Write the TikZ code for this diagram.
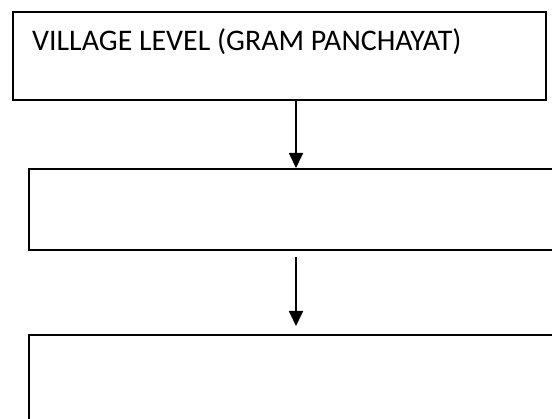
\documentclass[tikz,border=0pt]{standalone}
\usepackage{fontspec}
\setmainfont{Carlito}
\usetikzlibrary{arrows.meta}
\tikzset{
  levelbox/.style={draw=black, line width=1.6pt, rectangle, inner sep=0pt},
  flowarrow/.style={line width=1.8pt, -{Triangle[length=15pt,width=14pt]}},
}
\begin{document}
\begin{tikzpicture}[x=1pt,y=1pt]
\useasboundingbox (0,0) rectangle (552,-419);
\clip (0,0) rectangle (552,-419);
% boxes (by corner positions in pixels)
\node[levelbox, minimum width=533pt, minimum height=88pt, anchor=north west] (b1) at (12,-11) {};
\node[levelbox, minimum width=540pt, minimum height=81pt, anchor=north west] (b2) at (28,-168) {};
\node[levelbox, minimum width=540pt, minimum height=100pt, anchor=north west] (b3) at (28,-334) {};
% label
\node[anchor=base west, inner sep=0pt, font=\fontsize{29.9}{35}\selectfont] (t1) at (32,-50.5) {VILLAGE LEVEL (GRAM PANCHAYAT)};
% arrow anchors
\coordinate (a1s) at (296,-99);
\coordinate (a1e) at (296,-168);
\coordinate (a2s) at (296,-257);
\coordinate (a2e) at (296,-326);
\draw[flowarrow] (a1s) -- (a1e);
\draw[flowarrow] (a2s) -- (a2e);
\end{tikzpicture}
\end{document}
